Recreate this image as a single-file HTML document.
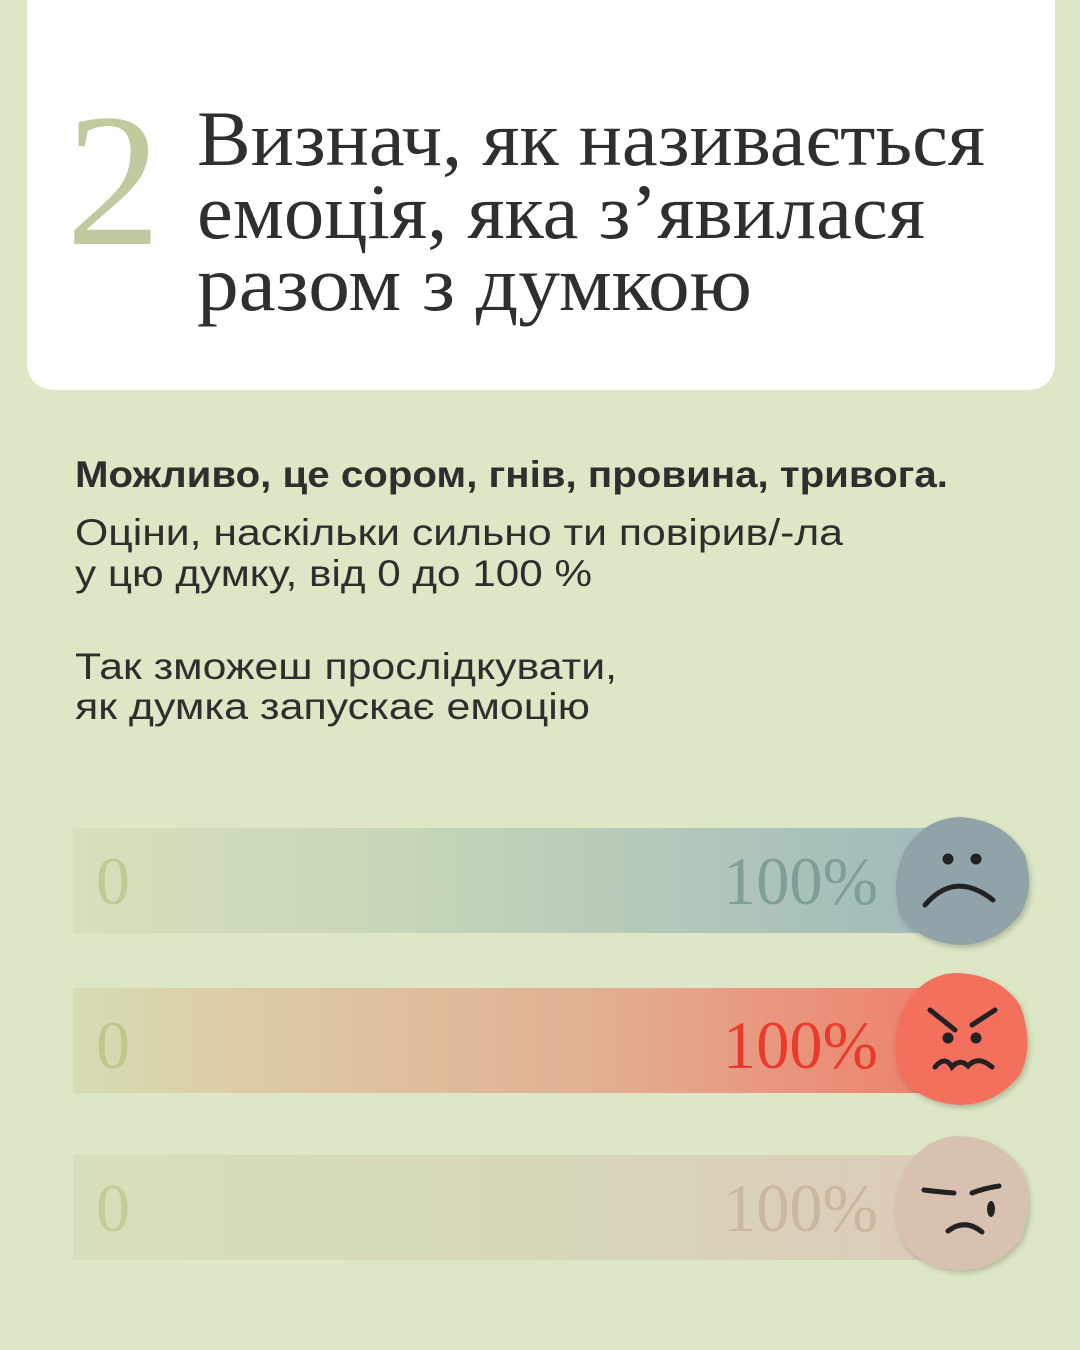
<!DOCTYPE html>
<html><head><meta charset="utf-8"><style>
html,body{margin:0;padding:0;width:1080px;height:1350px;overflow:hidden;background:#dee7c5}
svg{display:block}
.serif{font-family:"Liberation Serif",serif}
.sans{font-family:"Liberation Sans",sans-serif}
</style></head><body>
<svg width="1080" height="1350" viewBox="0 0 1080 1350" xmlns="http://www.w3.org/2000/svg">
<defs>
<linearGradient id="g1" x1="0" x2="1"><stop offset="0" stop-color="#d6e0bb"/><stop offset="0.35" stop-color="#c8d7b8"/><stop offset="1" stop-color="#9fb9bb"/></linearGradient>
<linearGradient id="g2" x1="0" x2="1"><stop offset="0" stop-color="#d6dcb6"/><stop offset="0.15" stop-color="#dccfa8"/><stop offset="0.6" stop-color="#e2ae92"/><stop offset="1" stop-color="#ef7d68"/></linearGradient>
<linearGradient id="g3" x1="0" x2="1"><stop offset="0" stop-color="#d6dfbb"/><stop offset="0.5" stop-color="#d7d8b8"/><stop offset="1" stop-color="#dccbba"/></linearGradient>
<filter id="sh" x="-20%" y="-20%" width="140%" height="140%"><feDropShadow dx="2" dy="3" stdDeviation="3" flood-opacity="0.2"/></filter>
</defs>
<rect width="1080" height="1350" fill="#dee7c5"/>
<path d="M27 0 H1055 V360 Q1055 390 1025 390 H57 Q27 390 27 360 Z" fill="#ffffff"/>
<text x="66" y="244" class="serif" font-size="190" fill="#bfcb9f">2</text>
<g class="serif" fill="#2f2f2f" font-size="78">
<text x="197" y="165" textLength="788" lengthAdjust="spacingAndGlyphs">Визнач, як називається</text>
<text x="197" y="238" textLength="728" lengthAdjust="spacingAndGlyphs">емоція, яка з’явилася</text>
<text x="197" y="310" textLength="555" lengthAdjust="spacingAndGlyphs">разом з думкою</text>
</g>
<g class="sans" fill="#2e2e2e">
<text x="75" y="487" font-size="37" font-weight="bold" textLength="873" lengthAdjust="spacingAndGlyphs">Можливо, це сором, гнів, провина, тривога.</text>
<text x="75" y="545" font-size="37" textLength="768" lengthAdjust="spacingAndGlyphs">Оціни, наскільки сильно ти повірив/-ла</text>
<text x="75" y="586" font-size="37" textLength="517" lengthAdjust="spacingAndGlyphs">у цю думку, від 0 до 100 %</text>
<text x="75" y="679" font-size="37" textLength="542" lengthAdjust="spacingAndGlyphs">Так зможеш прослідкувати,</text>
<text x="75" y="719" font-size="37" textLength="515" lengthAdjust="spacingAndGlyphs">як думка запускає емоцію</text>
</g>
<rect x="73" y="828" width="890" height="105" fill="url(#g1)"/>
<rect x="73" y="988" width="890" height="105" fill="url(#g2)"/>
<rect x="73" y="1155" width="890" height="105" fill="url(#g3)"/>
<g class="serif" font-size="68">
<text x="96" y="904" fill="#bfcb92">0</text>
<text x="96" y="1068" fill="#c2c68a">0</text>
<text x="96" y="1231" fill="#c2cd98">0</text>
<text x="723" y="904" fill="#7e9e98" textLength="155" lengthAdjust="spacingAndGlyphs">100%</text>
<text x="723" y="1068" fill="#e83b2c" textLength="155" lengthAdjust="spacingAndGlyphs">100%</text>
<text x="723" y="1231" fill="#c9b89f" textLength="155" lengthAdjust="spacingAndGlyphs">100%</text>
</g>
<g filter="url(#sh)">
<path d="M960 817 Q1005 820 1025 855 Q1035 890 1020 915 Q995 945 960 945 Q920 943 900 915 Q890 880 905 850 Q925 818 960 817Z" fill="#8fa3a8"/>
<path d="M958 973 Q1000 975 1020 1005 Q1035 1045 1020 1075 Q995 1105 960 1105 Q920 1103 900 1075 Q888 1040 905 1005 Q925 973 958 973Z" fill="#f2705c"/>
<path d="M960 1136 Q1000 1138 1022 1170 Q1035 1205 1020 1240 Q995 1270 960 1270 Q920 1268 902 1240 Q888 1205 905 1170 Q925 1136 960 1136Z" fill="#d9c1b1"/>
</g>
<g stroke="#222" stroke-linecap="round" fill="none" stroke-width="5">
<circle cx="948" cy="859" r="3" fill="#222"/><circle cx="976" cy="859" r="3" fill="#222"/>
<path d="M925 905 Q955 870 993 900"/>
<path d="M930 1010 L955 1030"/><path d="M995 1010 L972 1025"/>
<circle cx="948" cy="1038" r="3" fill="#222"/><circle cx="976" cy="1038" r="3" fill="#222"/>
<path d="M935 1067 Q945 1055 952 1067 Q960 1058 968 1066 Q978 1055 992 1067"/>
<path d="M924 1190 Q940 1192 954 1193"/><path d="M972 1193 Q985 1188 999 1186"/>
<path d="M948 1231 Q965 1218 982 1232"/>
</g>
<ellipse cx="991" cy="1209" rx="4" ry="8" fill="#222"/>
</svg>
</body></html>
